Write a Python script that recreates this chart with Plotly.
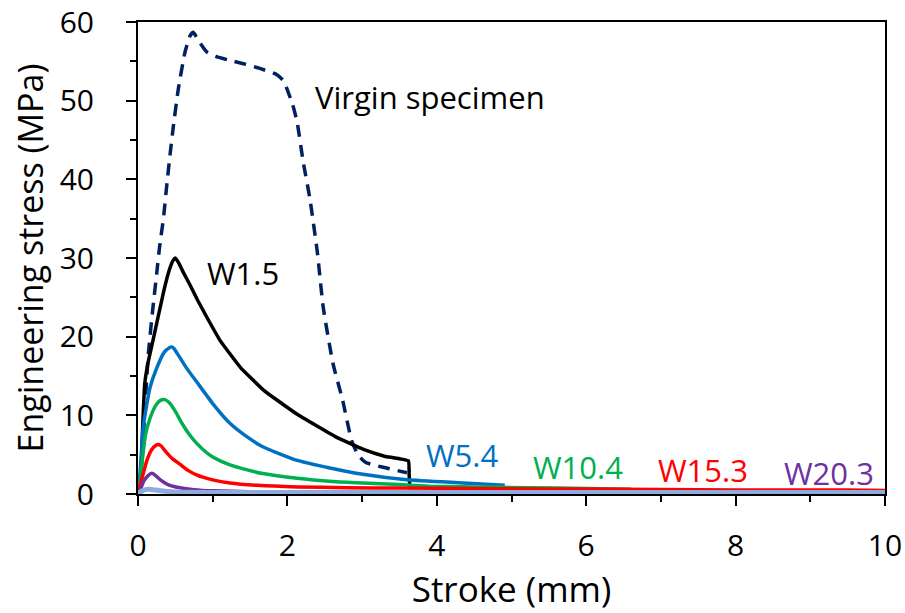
import plotly.graph_objects as go

# ---- data ----
virgin_x = [0, 0.04, 0.07, 0.10, 0.14, 0.20, 0.25, 0.29, 0.34, 0.39, 0.43, 0.47, 0.54, 0.63, 0.70, 0.74,
            0.80, 0.92, 1.05, 1.20, 1.41, 1.63, 1.86, 1.95, 2.01, 2.07, 2.13, 2.21, 2.30, 2.40, 2.48,
            2.61, 2.74, 2.86, 2.95, 3.05, 3.28, 3.60]
virgin_y = [0, 3, 7, 12, 18, 23.7, 28, 31.5, 35, 39.7, 43.2, 46.5, 51.5, 56.2, 58.3, 58.7,
            57.8, 56.2, 55.6, 55.2, 54.7, 54.1, 53.3, 52.5, 51.1, 49.5, 47.3, 42.3, 37.6, 30.8, 23.7,
            16.6, 11.9, 6.8, 4.9, 4.0, 3.4, 2.7]

w15_x = [0, 0.03, 0.06, 0.09, 0.13, 0.20, 0.28, 0.35, 0.42, 0.47, 0.50, 0.55, 0.60, 0.70, 0.80, 0.92,
         1.10, 1.37, 1.68, 2.12, 2.66, 3.01, 3.30, 3.62, 3.63, 3.64]
w15_y = [0, 0.5, 8, 14, 16.5, 19.5, 23, 26, 28.5, 29.7, 30.0, 29.3, 28.3, 26.5, 24.6, 22.5,
         19.5, 16.1, 13.2, 10.2, 7.2, 5.7, 4.8, 4.2, 2.4, 0.6]

w54_x = [0, 0.03, 0.07, 0.12, 0.16, 0.25, 0.35, 0.42, 0.45, 0.48, 0.55, 0.65, 0.79, 1.00, 1.23, 1.50,
         1.67, 2.12, 2.57, 3.01, 3.60, 4.35, 4.91]
w54_y = [0, 3, 8.5, 11.5, 13.5, 16, 18, 18.6, 18.7, 18.5, 17.5, 16, 14.2, 11.5, 9.0, 7.0,
         6.0, 4.3, 3.3, 2.5, 1.8, 1.4, 1.1]

w104_x = [0, 0.03, 0.06, 0.10, 0.16, 0.24, 0.30, 0.36, 0.42, 0.50, 0.60, 0.70, 0.79, 0.90, 1.00, 1.23,
          1.45, 1.67, 2.13, 2.60, 3.01, 3.50, 3.91, 4.50, 5.25, 6.00, 6.60]
w104_y = [0, 1.8, 4.5, 7.5, 9.6, 11.3, 11.9, 12.0, 11.6, 10.5, 8.8, 7.4, 6.4, 5.4, 4.7, 3.7,
          3.1, 2.6, 2.0, 1.6, 1.4, 1.2, 1.0, 0.9, 0.8, 0.7, 0.6]

w153_x = [0, 0.03, 0.07, 0.12, 0.18, 0.24, 0.27, 0.31, 0.38, 0.46, 0.56, 0.67, 0.79, 1.00, 1.23, 1.60,
          2.13, 2.80, 3.50, 4.50, 5.50, 6.50, 7.50, 8.50, 9.50, 10.0]
w153_y = [0, 1.2, 2.6, 4.3, 5.6, 6.2, 6.3, 6.1, 5.3, 4.5, 3.8, 3.0, 2.4, 1.8, 1.4, 1.1,
          0.9, 0.8, 0.75, 0.7, 0.65, 0.6, 0.55, 0.5, 0.5, 0.45]

w203_x = [0, 0.04, 0.08, 0.13, 0.17, 0.20, 0.24, 0.30, 0.40, 0.56, 0.75, 1.0, 1.5, 2.5, 4.0, 6.0, 8.0, 10.0]
w203_y = [0, 0.8, 1.7, 2.3, 2.6, 2.6, 2.3, 1.8, 1.2, 0.8, 0.55, 0.4, 0.3, 0.25, 0.2, 0.2, 0.2, 0.2]

base_x = [0, 0.05, 0.10, 0.15, 0.20, 0.30, 0.50, 1.0, 2.0, 4.0, 6.0, 8.0, 10.0]
base_y = [0, 0.35, 0.55, 0.6, 0.55, 0.4, 0.25, 0.2, 0.18, 0.18, 0.18, 0.18, 0.18]

label_text = ["Virgin specimen", "W1.5", "W5.4", "W10.4", "W15.3", "W20.3"]
label_x = [3.91, 1.41, 4.34, 5.89, 7.56, 9.25]
label_y = [50.5, 28.1, 4.9, 3.4, 3.0, 2.7]
label_color = ["#000000", "#000000", "#0070C0", "#00B050", "#FF0000", "#7030A0"]

FONT = "Open Sans"

fig = go.Figure()
fig.add_trace(go.Scatter(x=virgin_x, y=virgin_y, mode="lines", line=dict(color="#002060", width=3.5, dash="12px,8px", shape="spline", smoothing=0.5)))
fig.add_trace(go.Scatter(x=w15_x, y=w15_y, mode="lines", line=dict(color="#000000", width=3.5, shape="spline", smoothing=0.3)))
fig.add_trace(go.Scatter(x=w54_x, y=w54_y, mode="lines", line=dict(color="#0070C0", width=3.5, shape="spline", smoothing=0.5)))
fig.add_trace(go.Scatter(x=w104_x, y=w104_y, mode="lines", line=dict(color="#00B050", width=3.5, shape="spline", smoothing=0.5)))
fig.add_trace(go.Scatter(x=w153_x, y=w153_y, mode="lines", line=dict(color="#FF0000", width=3.5, shape="spline", smoothing=0.5)))
fig.add_trace(go.Scatter(x=w203_x, y=w203_y, mode="lines", line=dict(color="#7030A0", width=3.5, shape="spline", smoothing=0.5)))
fig.add_trace(go.Scatter(x=base_x, y=base_y, mode="lines", line=dict(color="#8FAADC", width=5, shape="spline", smoothing=0.5)))

for t, x, y, c in zip(label_text, label_x, label_y, label_color):
    fig.add_annotation(x=x, y=y, text=t, showarrow=False, font=dict(family=FONT, size=31, color=c))

axis_common = dict(showline=True, linecolor="black", linewidth=2, mirror=True, ticks="outside",
                   ticklen=10, tickwidth=2, tickcolor="black", showgrid=False, zeroline=False,
                   automargin=False, ticklabeloverflow="allow",
                   tickfont=dict(family=FONT, size=30, color="black"))

fig.update_xaxes(range=[0, 10], dtick=2, minor=dict(dtick=1, ticks="outside", ticklen=6, tickwidth=2, tickcolor="black"),
                 ticklabelstandoff=14,
                 title=dict(text="Stroke (mm)", font=dict(family=FONT, size=35, color="black"), standoff=12),
                 **axis_common)
fig.update_yaxes(range=[0, 60], dtick=10, minor=dict(dtick=5, ticks="outside", ticklen=6, tickwidth=2, tickcolor="black"),
                 ticklabelstandoff=26,
                 title=dict(text="Engineering stress (MPa)", font=dict(family=FONT, size=34, color="black"), standoff=6),
                 **axis_common)

fig.update_layout(width=905, height=613, showlegend=False, plot_bgcolor="white", paper_bgcolor="white",
                  margin=dict(l=138, r=20, t=22, b=119))

fig.write_html("out.html")
